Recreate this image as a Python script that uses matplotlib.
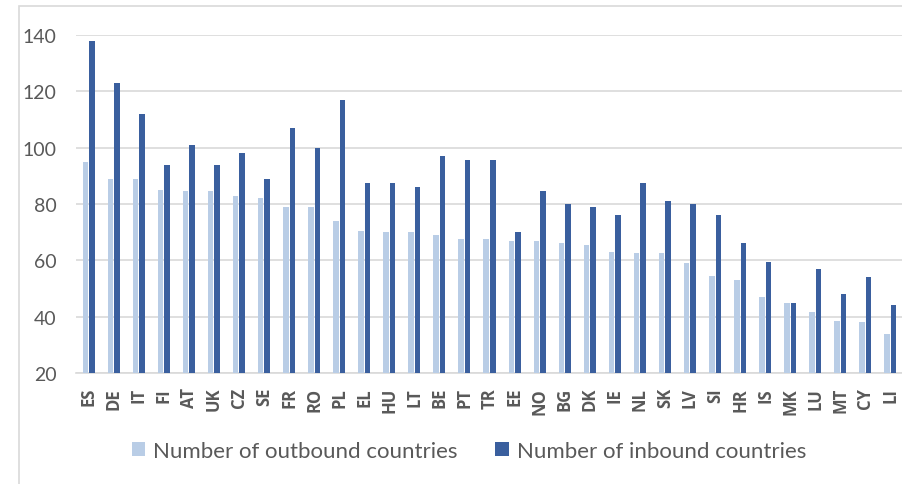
import matplotlib.pyplot as plt
import numpy as np
from matplotlib.patches import Rectangle

countries = ['ES', 'DE', 'IT', 'FI', 'AT', 'UK', 'CZ', 'SE', 'FR', 'RO', 'PL',
             'EL', 'HU', 'LT', 'BE', 'PT', 'TR', 'EE', 'NO', 'BG', 'DK', 'IE',
             'NL', 'SK', 'LV', 'SI', 'HR', 'IS', 'MK', 'LU', 'MT', 'CY', 'LI']
outbound = [95, 89, 89, 85, 84.5, 84.5, 83, 82, 79, 79, 74,
            70.5, 70, 70, 69, 67.5, 67.5, 67, 67, 66, 65.5, 63,
            62.5, 62.5, 59, 54.5, 53, 47, 45, 41.5, 38.5, 38, 34]
inbound = [138, 123, 112, 94, 101, 94, 98, 89, 107, 100, 117,
           87.5, 87.5, 86, 97, 95.5, 95.5, 70, 84.5, 80, 79, 76,
           87.5, 81, 80, 76, 66, 59.5, 45, 57, 48, 54, 44]
yticks = [20, 40, 60, 80, 100, 120, 140]

plt.rcParams['font.family'] = ['Lato', 'DejaVu Sans']
text_color = '#595959'
grid_color = '#d9d9d9'

W, H = 903, 485
fig = plt.figure(figsize=(W / 100, H / 100), dpi=100)
ax = fig.add_axes([76 / W, 1 - 374 / H, (903 - 76) / W, (374 - 36) / H])

x = np.arange(len(countries))
bw = 0.22
ax.bar(x - 0.13, outbound, bw, color='#B9CDE6', label='Number of outbound countries', zorder=3)
ax.bar(x + 0.13, inbound, bw, color='#3A5F9E', label='Number of inbound countries', zorder=3)

ax.set_xlim(-0.5, len(countries) - 0.5)
ax.set_ylim(20, 140)
ax.set_yticks(yticks)
ax.set_yticklabels([str(v) for v in yticks], fontsize=14, color=text_color)
ax.set_xticks(x)
ax.set_xticklabels(countries, rotation=90, fontsize=12, fontweight='bold', color=text_color,
                   family='Open Sans')
ax.tick_params(axis='both', length=0)
ax.tick_params(axis='y', pad=14)
ax.tick_params(axis='x', pad=10)
ax.grid(axis='y', color=grid_color, linewidth=1.2, zorder=0)
for s in ['top', 'right', 'left']:
    ax.spines[s].set_visible(False)
ax.spines['bottom'].set_color(grid_color)
ax.spines['bottom'].set_linewidth(1.2)

leg = fig.legend(loc='center', bbox_to_anchor=(469 / W, 1 - 452 / H), ncol=2, frameon=False,
                 fontsize=16, handlelength=0.6, handleheight=0.6, handletextpad=0.35,
                 columnspacing=1.7)
for t in leg.get_texts():
    t.set_color(text_color)

# chart border
fig.patches.append(Rectangle((19.5 / W, -0.05), 1.1, 1 - 7 / H + 0.05, transform=fig.transFigure,
                             fill=False, edgecolor=grid_color, linewidth=1.2))

fig.savefig('out.png', dpi=100)
